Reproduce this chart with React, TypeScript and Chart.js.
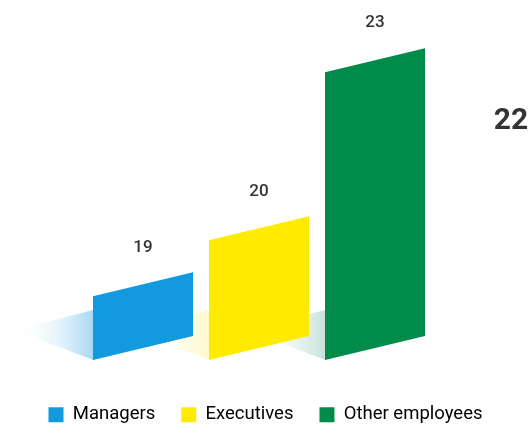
import { useEffect, useRef } from "react";
import { Chart, registerables } from "chart.js";

Chart.register(...registerables);

const categories = ["Managers", "Executives", "Other employees"];
const values = [19, 20, 23];
const barColors = ["#119ade", "#ffeb00", "#008b4b"];
const shadowColors = ["rgba(110,190,235,0.6)", "rgba(255,238,110,0.35)", "rgba(130,190,170,0.45)"];
const sideLabel = "22";
const baseValue = 17.86;
const yMin = 17.514;
const yMax = 24.29;

const SKEW = 24;
const SHADOW_LEN = 78;

const skewPlugin = {
  id: "skewBars",
  beforeDatasetsDraw(chart: any) {
    const ctx = chart.ctx;
    const meta = chart.getDatasetMeta(0);
    const els = meta.data.map((el: any) => el.getProps(["x", "y", "base", "width"], true));
    ctx.save();
    els.forEach((p: any, i: number) => {
      const left = p.x - p.width / 2;
      const g = ctx.createLinearGradient(left, 0, left - SHADOW_LEN, 0);
      g.addColorStop(0, shadowColors[i]);
      g.addColorStop(1, "rgba(255,255,255,0)");
      ctx.fillStyle = g;
      ctx.beginPath();
      ctx.moveTo(left, p.base - 50);
      ctx.lineTo(left, p.base);
      ctx.lineTo(left - SHADOW_LEN, p.base - 30);
      ctx.closePath();
      ctx.fill();
    });
    els.forEach((p: any, i: number) => {
      const left = p.x - p.width / 2;
      const right = p.x + p.width / 2;
      ctx.fillStyle = barColors[i];
      ctx.beginPath();
      ctx.moveTo(left, p.base);
      ctx.lineTo(left, p.y);
      ctx.lineTo(right, p.y - SKEW);
      ctx.lineTo(right, p.base - SKEW);
      ctx.closePath();
      ctx.fill();
    });
    ctx.fillStyle = "#333333";
    ctx.font = "500 17px Roboto";
    ctx.textAlign = "center";
    ctx.textBaseline = "middle";
    els.forEach((p: any, i: number) => {
      ctx.fillText(String(values[i]), p.x, p.y - SKEW / 2 - 37);
    });
    ctx.font = "bold 30px Roboto";
    ctx.fillText(sideLabel, chart.chartArea.right + 78, 121);
    ctx.restore();
    return false;
  },
};

const hiddenAxis = (position: string, width: number) => ({
  position,
  display: true,
  ticks: { display: false },
  grid: { display: false },
  border: { display: false },
  afterFit: (s: any) => {
    s.width = width;
  },
});

export default function App() {
  const ref = useRef<HTMLCanvasElement>(null);
  useEffect(() => {
    if (!ref.current) return;
    const chart = new Chart(ref.current, {
      type: "bar",
      data: {
        labels: categories,
        datasets: [
          {
            label: "Employees",
            data: values,
            base: baseValue,
            backgroundColor: barColors,
            barPercentage: 0.862,
            categoryPercentage: 1,
          } as any,
        ],
      },
      options: {
        animation: false,
        responsive: true,
        maintainAspectRatio: false,
        layout: { padding: { left: 0, right: 0, top: 0, bottom: -7 } },
        scales: {
          x: { display: false },
          y: { ...hiddenAxis("left", 85), min: yMin, max: yMax } as any,
          y2: { ...hiddenAxis("right", 98), type: "linear" } as any,
        },
        plugins: {
          tooltip: { enabled: false },
          legend: {
            position: "bottom",
            labels: {
              boxWidth: 15,
              boxHeight: 15,
              padding: 26,
              color: "#555555",
              font: { family: "Roboto", size: 18.5 },
              generateLabels: () =>
                categories.map((c, i) => ({
                  text: c,
                  fillStyle: barColors[i],
                  strokeStyle: barColors[i],
                  lineWidth: 0,
                  hidden: false,
                  index: i,
                  datasetIndex: 0,
                })),
            },
          },
        },
      },
      plugins: [skewPlugin],
    });
    return () => chart.destroy();
  }, []);
  return (
    <div style={{ position: "fixed", inset: 0, background: "#ffffff" }}>
      <canvas ref={ref} />
    </div>
  );
}
